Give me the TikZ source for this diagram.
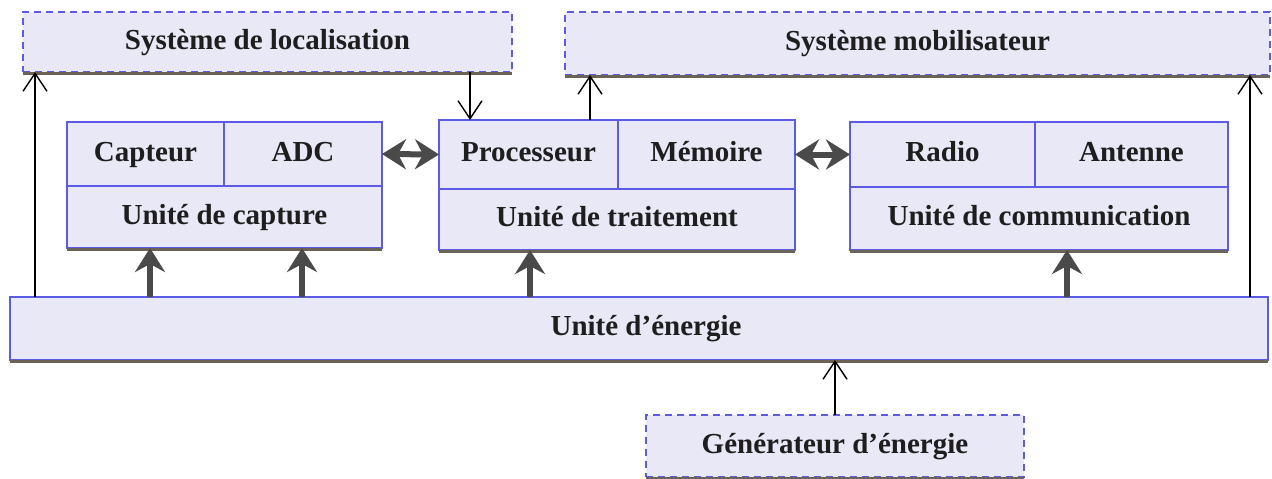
\documentclass[tikz,border=0pt]{standalone}
\usepackage{fontspec}
\setmainfont{Liberation Serif}
\usetikzlibrary{arrows.meta}
\definecolor{boxfill}{HTML}{E8E8F6}
\definecolor{boxblue}{HTML}{5B5BE6}
\definecolor{shadowc}{HTML}{6B6456}
\definecolor{fatgray}{HTML}{4A4A4A}
\definecolor{txt}{HTML}{1E1E1E}
\newcommand\boxfont{\bfseries\fontsize{29}{33}\selectfont}
\tikzset{
  unit/.style={draw=boxblue, fill=boxfill, line width=1.4pt, inner sep=0pt,
    outer sep=0pt, font=\boxfont, text=txt, text height=20pt, text depth=6pt},
  ext/.style={unit, dash pattern=on 7pt off 5pt},
  shadeline/.style={draw=shadowc, line width=2.4pt},
  thinarrow/.style={line width=1.4pt, draw=black,
    -{Straight Barb[length=18pt,width=24pt,line width=1.4pt]}},
  fattip/.tip={Stealth[length=24pt,width=30pt,inset=8pt]},
  fatarrow/.style={line width=6pt, draw=fatgray, -fattip},
  fatboth/.style={line width=6pt, draw=fatgray, fattip-fattip},
}
\begin{document}
\begin{tikzpicture}[x=1pt,y=-1pt]
\useasboundingbox (0,0) rectangle (1272,479);

% external systems (dashed)
\node[ext, minimum width=489pt, minimum height=60pt] (loc) at (267.5,42) {Système de localisation};
\node[ext, minimum width=705pt, minimum height=63pt] (mob) at (917.5,43.5) {Système mobilisateur};
\node[ext, minimum width=378pt, minimum height=62pt] (gen) at (835,446) {Générateur d’énergie};

% capture unit
\node[unit, minimum width=157pt, minimum height=64pt] (cap) at (145.5,154) {Capteur};
\node[unit, minimum width=158pt, minimum height=64pt] (adc) at (303,154) {ADC};
\node[unit, minimum width=315pt, minimum height=62pt] (ucap) at (224.5,217) {Unité de capture};

% processing unit
\node[unit, minimum width=179pt, minimum height=69pt] (proc) at (528.5,154.5) {Processeur};
\node[unit, minimum width=177pt, minimum height=69pt] (mem) at (706.5,154.5) {Mémoire};
\node[unit, minimum width=356pt, minimum height=61pt] (utr) at (617,219.5) {Unité de traitement};

% communication unit
\node[unit, minimum width=185pt, minimum height=65pt] (radio) at (942.5,154.5) {Radio};
\node[unit, minimum width=193pt, minimum height=65pt] (ant) at (1131.5,154.5) {Antenne};
\node[unit, minimum width=378pt, minimum height=63pt] (ucom) at (1039,218.5) {Unité de communication};

% energy unit
\node[unit, minimum width=1258pt, minimum height=63pt] (nrj) at (639,328.5) {};
\node[font=\boxfont, text=txt, text height=20pt, text depth=6pt, inner sep=0pt] (nrjlbl) at (646,328.5) {Unité d’énergie};

% shadows along the bottom edges
\foreach \b in {loc,mob,gen,ucap,utr,ucom,nrj}
  \draw[shadeline] ([yshift=-1.6pt]\b.south west) -- ([yshift=-1.6pt]\b.south east);

% thin signal arrows
\draw[thinarrow] (nrj.north -| 35,0) -- (loc.south -| 35,0);
\draw[thinarrow] (loc.south -| 470,0) -- (proc.north -| 470,0);
\draw[thinarrow] (proc.north -| 590,0) -- (mob.south -| 590,0);
\draw[thinarrow] (nrj.north -| 1250,0) -- (mob.south -| 1250,0);
\draw[thinarrow] (gen.north) -- (nrj.south -| gen.north);

% power supply arrows
\draw[fatarrow] (nrj.north -| 150,0) -- (ucap.south -| 150,0);
\draw[fatarrow] (nrj.north -| 302,0) -- (ucap.south -| 302,0);
\draw[fatarrow] (nrj.north -| 530,0) -- (utr.south -| 530,0);
\draw[fatarrow] (nrj.north -| 1067,0) -- (ucom.south -| 1067,0);

% data exchange between units
\draw[fatboth] (adc.east) -- (proc.west);
\draw[fatboth] (mem.east) -- (radio.west);
\end{tikzpicture}
\end{document}
